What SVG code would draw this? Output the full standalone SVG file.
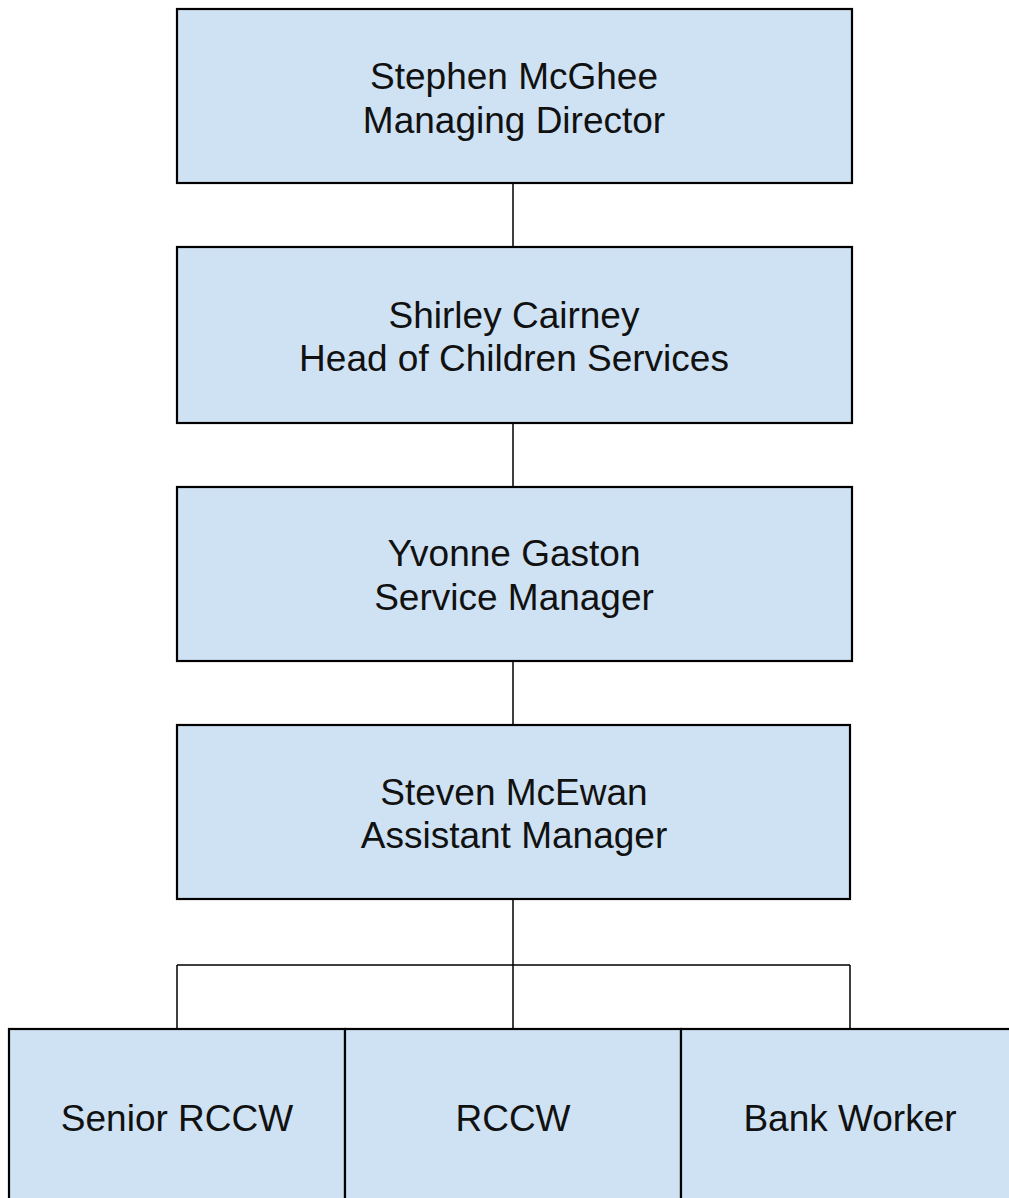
<svg xmlns="http://www.w3.org/2000/svg" width="1009" height="1198" viewBox="0 0 1009 1198">
<style>
.box{fill:#cfe2f3;stroke:#000;stroke-width:2.2}
.t{font-family:"Liberation Sans",Arial,sans-serif;font-size:37px;fill:#111;text-anchor:middle}
.c{fill:none;stroke:#000;stroke-width:1.5}
</style>
<rect width="1009" height="1198" fill="#fff"/>
<g id="connectors">
<path class="c" d="M513 183V247M513 423V487M513 661V725M513 899V965M177 965H850M177 965V1029M513 965V1029M850 965V1029"/>
</g>
<g id="n1"><rect class="box" x="177" y="9" width="675" height="174"/><text class="t" x="514" y="89">Stephen McGhee</text><text class="t" x="514" y="133">Managing Director</text></g>
<g id="n2"><rect class="box" x="177" y="247" width="675" height="176"/><text class="t" x="514" y="328">Shirley Cairney</text><text class="t" x="514" y="371">Head of Children Services</text></g>
<g id="n3"><rect class="box" x="177" y="487" width="675" height="174"/><text class="t" x="514" y="566">Yvonne Gaston</text><text class="t" x="514" y="610">Service Manager</text></g>
<g id="n4"><rect class="box" x="177" y="725" width="673" height="174"/><text class="t" x="514" y="805">Steven McEwan</text><text class="t" x="514" y="848">Assistant Manager</text></g>
<g id="n5"><rect class="box" x="9" y="1029" width="336" height="190"/><text class="t" x="177" y="1131">Senior RCCW</text></g>
<g id="n6"><rect class="box" x="345" y="1029" width="336" height="190"/><text class="t" x="513" y="1131">RCCW</text></g>
<g id="n7"><rect class="box" x="681" y="1029" width="340" height="190"/><text class="t" x="850" y="1131">Bank Worker</text></g>
</svg>
